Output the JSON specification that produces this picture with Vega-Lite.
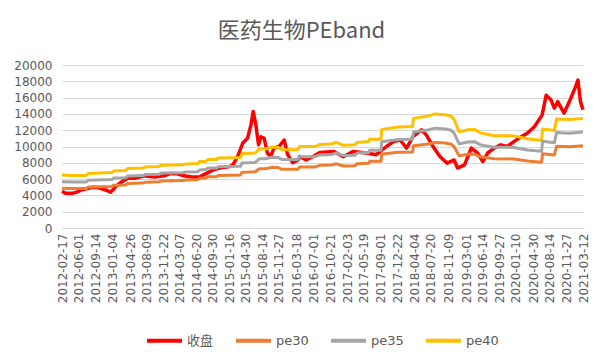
{
  "$schema": "https://vega.github.io/schema/vega-lite/v6.json",
  "autosize": {"type": "none"},
  "padding": {"left": 62, "top": 65, "right": 19, "bottom": 134},
  "width": 521,
  "height": 163,
  "background": "#ffffff",
  "title": {"text": "医药生物PEband", "font": "Noto Sans CJK SC", "fontSize": 22, "fontWeight": "normal", "color": "#595959", "anchor": "middle", "frame": "bounds", "offset": 16},
  "datasets": {
    "close": [
      {"d":"2012-02-17","s":"收盘","v":4500},{"d":"2012-03-10","s":"收盘","v":4250},{"d":"2012-04-20","s":"收盘","v":4250},{"d":"2012-05-21","s":"收盘","v":4400},
      {"d":"2012-06-22","s":"收盘","v":4700},{"d":"2012-07-22","s":"收盘","v":4800},{"d":"2012-09-01","s":"收盘","v":5000},{"d":"2012-10-15","s":"收盘","v":4900},
      {"d":"2012-11-29","s":"收盘","v":4600},{"d":"2012-12-21","s":"收盘","v":4400},{"d":"2013-01-12","s":"收盘","v":4800},{"d":"2013-01-23","s":"收盘","v":5100},
      {"d":"2013-02-26","s":"收盘","v":5600},{"d":"2013-04-11","s":"收盘","v":6100},{"d":"2013-05-23","s":"收盘","v":6100},{"d":"2013-07-25","s":"收盘","v":6400},
      {"d":"2013-09-25","s":"收盘","v":6250},{"d":"2013-11-27","s":"收盘","v":6400},{"d":"2014-01-08","s":"收盘","v":6700},{"d":"2014-02-19","s":"收盘","v":6650},
      {"d":"2014-04-01","s":"收盘","v":6400},{"d":"2014-05-23","s":"收盘","v":6250},{"d":"2014-07-14","s":"收盘","v":6300},{"d":"2014-08-23","s":"收盘","v":6700},
      {"d":"2014-10-02","s":"收盘","v":7100},{"d":"2014-11-15","s":"收盘","v":7350},{"d":"2015-01-18","s":"收盘","v":7550},{"d":"2015-02-07","s":"收盘","v":7750},
      {"d":"2015-03-10","s":"收盘","v":8800},{"d":"2015-04-10","s":"收盘","v":10400},{"d":"2015-05-11","s":"收盘","v":11000},{"d":"2015-06-02","s":"收盘","v":12650},
      {"d":"2015-06-16","s":"收盘","v":14300},{"d":"2015-07-03","s":"收盘","v":12650},{"d":"2015-07-20","s":"收盘","v":10200},{"d":"2015-08-04","s":"收盘","v":11200},
      {"d":"2015-08-25","s":"收盘","v":11000},{"d":"2015-09-14","s":"收盘","v":9200},{"d":"2015-10-05","s":"收盘","v":8750},{"d":"2015-10-26","s":"收盘","v":9800},
      {"d":"2015-11-27","s":"收盘","v":10000},{"d":"2015-12-30","s":"收盘","v":10800},{"d":"2016-01-21","s":"收盘","v":9000},{"d":"2016-02-23","s":"收盘","v":8000},
      {"d":"2016-03-27","s":"收盘","v":8350},{"d":"2016-04-06","s":"收盘","v":8750},{"d":"2016-05-18","s":"收盘","v":8350},{"d":"2016-06-29","s":"收盘","v":8750},
      {"d":"2016-08-12","s":"收盘","v":9250},{"d":"2016-11-08","s":"收盘","v":9400},{"d":"2017-01-09","s":"收盘","v":8750},{"d":"2017-03-13","s":"收盘","v":9400},
      {"d":"2017-06-04","s":"收盘","v":9200},{"d":"2017-08-06","s":"收盘","v":9000},{"d":"2017-10-10","s":"收盘","v":10000},{"d":"2017-11-23","s":"收盘","v":10600},
      {"d":"2018-01-05","s":"收盘","v":10800},{"d":"2018-02-15","s":"收盘","v":9800},{"d":"2018-03-28","s":"收盘","v":11200},{"d":"2018-05-20","s":"收盘","v":12050},
      {"d":"2018-06-21","s":"收盘","v":11400},{"d":"2018-08-02","s":"收盘","v":10000},{"d":"2018-09-16","s":"收盘","v":8750},{"d":"2018-10-31","s":"收盘","v":7950},
      {"d":"2018-12-14","s":"收盘","v":8350},{"d":"2019-01-05","s":"收盘","v":7350},{"d":"2019-02-18","s":"收盘","v":7750},{"d":"2019-04-02","s":"收盘","v":9800},
      {"d":"2019-05-13","s":"收盘","v":9200},{"d":"2019-06-14","s":"收盘","v":8150},{"d":"2019-07-15","s":"收盘","v":9200},{"d":"2019-08-26","s":"收盘","v":9800},
      {"d":"2019-10-06","s":"收盘","v":10200},{"d":"2019-11-17","s":"收盘","v":10000},{"d":"2019-12-29","s":"收盘","v":10600},{"d":"2020-02-10","s":"收盘","v":11150},
      {"d":"2020-03-25","s":"收盘","v":11650},{"d":"2020-05-08","s":"收盘","v":12450},{"d":"2020-06-25","s":"收盘","v":13850},{"d":"2020-07-21","s":"收盘","v":16300},
      {"d":"2020-08-21","s":"收盘","v":15700},{"d":"2020-09-11","s":"收盘","v":14700},{"d":"2020-10-02","s":"收盘","v":15500},{"d":"2020-11-12","s":"收盘","v":14100},
      {"d":"2020-12-24","s":"收盘","v":15900},{"d":"2021-01-24","s":"收盘","v":17350},{"d":"2021-02-08","s":"收盘","v":18150},{"d":"2021-02-24","s":"收盘","v":15500},
      {"d":"2021-03-12","s":"收盘","v":14500}
    ],
    "bands": [
      {"d":"2012-02-17","s":"pe40","v":6500},{"d":"2012-04-25","s":"pe40","v":6450},{"d":"2012-07-20","s":"pe40","v":6450},{"d":"2012-08-01","s":"pe40","v":6700},
      {"d":"2012-12-31","s":"pe40","v":6800},{"d":"2013-01-10","s":"pe40","v":7000},{"d":"2013-03-29","s":"pe40","v":7050},{"d":"2013-04-10","s":"pe40","v":7300},
      {"d":"2013-07-15","s":"pe40","v":7350},{"d":"2013-08-01","s":"pe40","v":7500},{"d":"2013-10-28","s":"pe40","v":7550},{"d":"2013-11-05","s":"pe40","v":7700},
      {"d":"2014-03-28","s":"pe40","v":7750},{"d":"2014-04-10","s":"pe40","v":7850},{"d":"2014-06-30","s":"pe40","v":7900},{"d":"2014-07-10","s":"pe40","v":8150},
      {"d":"2014-08-20","s":"pe40","v":8200},{"d":"2014-09-01","s":"pe40","v":8400},{"d":"2014-10-28","s":"pe40","v":8400},{"d":"2014-11-05","s":"pe40","v":8600},
      {"d":"2015-03-27","s":"pe40","v":8650},{"d":"2015-04-05","s":"pe40","v":9100},{"d":"2015-06-30","s":"pe40","v":9200},{"d":"2015-07-25","s":"pe40","v":9700},
      {"d":"2015-09-01","s":"pe40","v":9700},{"d":"2015-10-15","s":"pe40","v":9930},{"d":"2015-11-20","s":"pe40","v":9900},{"d":"2015-12-15","s":"pe40","v":9600},
      {"d":"2016-03-25","s":"pe40","v":9600},{"d":"2016-04-06","s":"pe40","v":10000},{"d":"2016-07-15","s":"pe40","v":10000},{"d":"2016-08-12","s":"pe40","v":10250},
      {"d":"2016-10-25","s":"pe40","v":10300},{"d":"2016-11-25","s":"pe40","v":10500},{"d":"2017-01-09","s":"pe40","v":10150},{"d":"2017-03-25","s":"pe40","v":10200},
      {"d":"2017-04-05","s":"pe40","v":10500},{"d":"2017-06-20","s":"pe40","v":10600},{"d":"2017-06-25","s":"pe40","v":10900},{"d":"2017-09-05","s":"pe40","v":10900},
      {"d":"2017-09-10","s":"pe40","v":12100},{"d":"2017-12-25","s":"pe40","v":12400},{"d":"2018-03-25","s":"pe40","v":12450},{"d":"2018-03-31","s":"pe40","v":13450},
      {"d":"2018-06-21","s":"pe40","v":13700},{"d":"2018-08-15","s":"pe40","v":14000},{"d":"2018-10-20","s":"pe40","v":13900},{"d":"2018-11-25","s":"pe40","v":13700},
      {"d":"2018-12-14","s":"pe40","v":13300},{"d":"2019-01-15","s":"pe40","v":11800},{"d":"2019-03-12","s":"pe40","v":12050},{"d":"2019-04-22","s":"pe40","v":12100},
      {"d":"2019-06-01","s":"pe40","v":11650},{"d":"2019-08-26","s":"pe40","v":11330},{"d":"2019-12-29","s":"pe40","v":11300},{"d":"2020-03-25","s":"pe40","v":10950},
      {"d":"2020-06-22","s":"pe40","v":10750},{"d":"2020-06-28","s":"pe40","v":12150},{"d":"2020-09-11","s":"pe40","v":11950},{"d":"2020-09-25","s":"pe40","v":13380},
      {"d":"2020-12-15","s":"pe40","v":13300},{"d":"2021-03-12","s":"pe40","v":13450},

      {"d":"2012-02-17","s":"pe35","v":5688},{"d":"2012-04-25","s":"pe35","v":5644},{"d":"2012-07-20","s":"pe35","v":5644},{"d":"2012-08-01","s":"pe35","v":5863},
      {"d":"2012-12-31","s":"pe35","v":5950},{"d":"2013-01-10","s":"pe35","v":6125},{"d":"2013-03-29","s":"pe35","v":6169},{"d":"2013-04-10","s":"pe35","v":6388},
      {"d":"2013-07-15","s":"pe35","v":6431},{"d":"2013-08-01","s":"pe35","v":6563},{"d":"2013-10-28","s":"pe35","v":6606},{"d":"2013-11-05","s":"pe35","v":6738},
      {"d":"2014-03-28","s":"pe35","v":6781},{"d":"2014-04-10","s":"pe35","v":6869},{"d":"2014-06-30","s":"pe35","v":6913},{"d":"2014-07-10","s":"pe35","v":7131},
      {"d":"2014-08-20","s":"pe35","v":7175},{"d":"2014-09-01","s":"pe35","v":7350},{"d":"2014-10-28","s":"pe35","v":7350},{"d":"2014-11-05","s":"pe35","v":7525},
      {"d":"2015-03-27","s":"pe35","v":7569},{"d":"2015-04-05","s":"pe35","v":7963},{"d":"2015-06-30","s":"pe35","v":8050},{"d":"2015-07-25","s":"pe35","v":8488},
      {"d":"2015-09-01","s":"pe35","v":8488},{"d":"2015-10-15","s":"pe35","v":8689},{"d":"2015-11-20","s":"pe35","v":8663},{"d":"2015-12-15","s":"pe35","v":8400},
      {"d":"2016-03-25","s":"pe35","v":8400},{"d":"2016-04-06","s":"pe35","v":8750},{"d":"2016-07-15","s":"pe35","v":8750},{"d":"2016-08-12","s":"pe35","v":8969},
      {"d":"2016-10-25","s":"pe35","v":9013},{"d":"2016-11-25","s":"pe35","v":9188},{"d":"2017-01-09","s":"pe35","v":8881},{"d":"2017-03-25","s":"pe35","v":8925},
      {"d":"2017-04-05","s":"pe35","v":9188},{"d":"2017-06-20","s":"pe35","v":9275},{"d":"2017-06-25","s":"pe35","v":9538},{"d":"2017-09-05","s":"pe35","v":9538},
      {"d":"2017-09-10","s":"pe35","v":10588},{"d":"2017-12-25","s":"pe35","v":10850},{"d":"2018-03-25","s":"pe35","v":10894},{"d":"2018-03-31","s":"pe35","v":11769},
      {"d":"2018-06-21","s":"pe35","v":11988},{"d":"2018-08-15","s":"pe35","v":12250},{"d":"2018-10-20","s":"pe35","v":12163},{"d":"2018-11-25","s":"pe35","v":11988},
      {"d":"2018-12-14","s":"pe35","v":11638},{"d":"2019-01-15","s":"pe35","v":10325},{"d":"2019-03-12","s":"pe35","v":10544},{"d":"2019-04-22","s":"pe35","v":10588},
      {"d":"2019-06-01","s":"pe35","v":10194},{"d":"2019-08-26","s":"pe35","v":9914},{"d":"2019-12-29","s":"pe35","v":9888},{"d":"2020-03-25","s":"pe35","v":9581},
      {"d":"2020-06-22","s":"pe35","v":9406},{"d":"2020-06-28","s":"pe35","v":10631},{"d":"2020-09-11","s":"pe35","v":10456},{"d":"2020-09-25","s":"pe35","v":11708},
      {"d":"2020-12-15","s":"pe35","v":11638},{"d":"2021-03-12","s":"pe35","v":11769},

      {"d":"2012-02-17","s":"pe30","v":4875},{"d":"2012-04-25","s":"pe30","v":4838},{"d":"2012-07-20","s":"pe30","v":4838},{"d":"2012-08-01","s":"pe30","v":5025},
      {"d":"2012-12-31","s":"pe30","v":5100},{"d":"2013-01-10","s":"pe30","v":5250},{"d":"2013-03-29","s":"pe30","v":5288},{"d":"2013-04-10","s":"pe30","v":5475},
      {"d":"2013-07-15","s":"pe30","v":5513},{"d":"2013-08-01","s":"pe30","v":5625},{"d":"2013-10-28","s":"pe30","v":5663},{"d":"2013-11-05","s":"pe30","v":5775},
      {"d":"2014-03-28","s":"pe30","v":5813},{"d":"2014-04-10","s":"pe30","v":5888},{"d":"2014-06-30","s":"pe30","v":5925},{"d":"2014-07-10","s":"pe30","v":6113},
      {"d":"2014-08-20","s":"pe30","v":6150},{"d":"2014-09-01","s":"pe30","v":6300},{"d":"2014-10-28","s":"pe30","v":6300},{"d":"2014-11-05","s":"pe30","v":6450},
      {"d":"2015-03-27","s":"pe30","v":6488},{"d":"2015-04-05","s":"pe30","v":6825},{"d":"2015-06-30","s":"pe30","v":6900},{"d":"2015-07-25","s":"pe30","v":7275},
      {"d":"2015-09-01","s":"pe30","v":7275},{"d":"2015-10-15","s":"pe30","v":7448},{"d":"2015-11-20","s":"pe30","v":7425},{"d":"2015-12-15","s":"pe30","v":7200},
      {"d":"2016-03-25","s":"pe30","v":7200},{"d":"2016-04-06","s":"pe30","v":7500},{"d":"2016-07-15","s":"pe30","v":7500},{"d":"2016-08-12","s":"pe30","v":7688},
      {"d":"2016-10-25","s":"pe30","v":7725},{"d":"2016-11-25","s":"pe30","v":7875},{"d":"2017-01-09","s":"pe30","v":7613},{"d":"2017-03-25","s":"pe30","v":7650},
      {"d":"2017-04-05","s":"pe30","v":7875},{"d":"2017-06-20","s":"pe30","v":7950},{"d":"2017-06-25","s":"pe30","v":8175},{"d":"2017-09-05","s":"pe30","v":8175},
      {"d":"2017-09-10","s":"pe30","v":9075},{"d":"2017-12-25","s":"pe30","v":9300},{"d":"2018-03-25","s":"pe30","v":9338},{"d":"2018-03-31","s":"pe30","v":10088},
      {"d":"2018-06-21","s":"pe30","v":10275},{"d":"2018-08-15","s":"pe30","v":10500},{"d":"2018-10-20","s":"pe30","v":10425},{"d":"2018-11-25","s":"pe30","v":10275},
      {"d":"2018-12-14","s":"pe30","v":9975},{"d":"2019-01-15","s":"pe30","v":8850},{"d":"2019-03-12","s":"pe30","v":9038},{"d":"2019-04-22","s":"pe30","v":9075},
      {"d":"2019-06-01","s":"pe30","v":8738},{"d":"2019-08-26","s":"pe30","v":8498},{"d":"2019-12-29","s":"pe30","v":8475},{"d":"2020-03-25","s":"pe30","v":8213},
      {"d":"2020-06-22","s":"pe30","v":8063},{"d":"2020-06-28","s":"pe30","v":9113},{"d":"2020-09-11","s":"pe30","v":8963},{"d":"2020-09-25","s":"pe30","v":10035},
      {"d":"2020-12-15","s":"pe30","v":9975},{"d":"2021-03-12","s":"pe30","v":10088}
    ]
  },
  "encoding": {
    "x": {
      "field": "d", "type": "temporal",
      "scale": {"type": "utc", "domain": [{"year": 2012, "month": 2, "date": 17, "utc": true}, {"year": 2021, "month": 3, "date": 12, "utc": true}]},
      "axis": {
        "title": null, "grid": false, "ticks": false, "tickSize": 0, "domain": true, "domainColor": "#D9D9D9", "domainWidth": 1,
        "labelAngle": 270, "labelPadding": 5, "labelFont": "DejaVu Sans", "labelFontSize": 12, "labelColor": "#595959",
        "labelOverlap": false, "labelFlush": false, "labelBound": false,
        "labelExpr": "utcFormat(datum.value, '%Y-%m-%d')",
        "values": [
          {"year":2012,"month":2,"date":17,"utc":true},{"year":2012,"month":6,"date":1,"utc":true},{"year":2012,"month":9,"date":14,"utc":true},
          {"year":2013,"month":1,"date":4,"utc":true},{"year":2013,"month":4,"date":26,"utc":true},{"year":2013,"month":8,"date":9,"utc":true},
          {"year":2013,"month":11,"date":22,"utc":true},{"year":2014,"month":3,"date":7,"utc":true},{"year":2014,"month":6,"date":20,"utc":true},
          {"year":2014,"month":9,"date":30,"utc":true},{"year":2015,"month":1,"date":16,"utc":true},{"year":2015,"month":4,"date":30,"utc":true},
          {"year":2015,"month":8,"date":14,"utc":true},{"year":2015,"month":11,"date":27,"utc":true},{"year":2016,"month":3,"date":18,"utc":true},
          {"year":2016,"month":7,"date":1,"utc":true},{"year":2016,"month":10,"date":21,"utc":true},{"year":2017,"month":2,"date":3,"utc":true},
          {"year":2017,"month":5,"date":19,"utc":true},{"year":2017,"month":9,"date":1,"utc":true},{"year":2017,"month":12,"date":22,"utc":true},
          {"year":2018,"month":4,"date":4,"utc":true},{"year":2018,"month":7,"date":20,"utc":true},{"year":2018,"month":11,"date":9,"utc":true},
          {"year":2019,"month":3,"date":1,"utc":true},{"year":2019,"month":6,"date":14,"utc":true},{"year":2019,"month":9,"date":27,"utc":true},
          {"year":2020,"month":1,"date":10,"utc":true},{"year":2020,"month":4,"date":30,"utc":true},{"year":2020,"month":8,"date":14,"utc":true},
          {"year":2020,"month":11,"date":27,"utc":true},{"year":2021,"month":3,"date":12,"utc":true}
        ]
      }
    },
    "y": {
      "field": "v", "type": "quantitative",
      "scale": {"domain": [0, 20000], "nice": false},
      "axis": {
        "title": null, "grid": true, "gridColor": "#D9D9D9", "gridWidth": 1, "domain": false, "ticks": false, "tickSize": 0,
        "labelPadding": 10, "labelFont": "DejaVu Sans", "labelFontSize": 12, "labelColor": "#595959", "format": "d",
        "values": [0, 2000, 4000, 6000, 8000, 10000, 12000, 14000, 16000, 18000, 20000]
      }
    },
    "color": {
      "field": "s", "type": "nominal",
      "scale": {"domain": ["收盘", "pe30", "pe35", "pe40"], "range": ["#FF0000", "#ED7D31", "#A5A5A5", "#FFC000"]},
      "legend": {
        "title": null, "orient": "none", "legendX": 83, "legendY": 256, "direction": "horizontal",
        "symbolType": "stroke", "symbolSize": 1225, "symbolStrokeWidth": 4, "labelOffset": 3, "columnPadding": 14,
        "labelFont": "DejaVu Sans, Noto Sans CJK SC", "labelFontSize": 13, "labelColor": "#595959"
      }
    }
  },
  "layer": [
    {"data": {"name": "close"}, "mark": {"type": "line", "strokeWidth": 3.5, "strokeJoin": "round"}},
    {"data": {"name": "bands"}, "mark": {"type": "line", "strokeWidth": 3, "strokeJoin": "round"}}
  ],
  "config": {"view": {"stroke": null}}
}
